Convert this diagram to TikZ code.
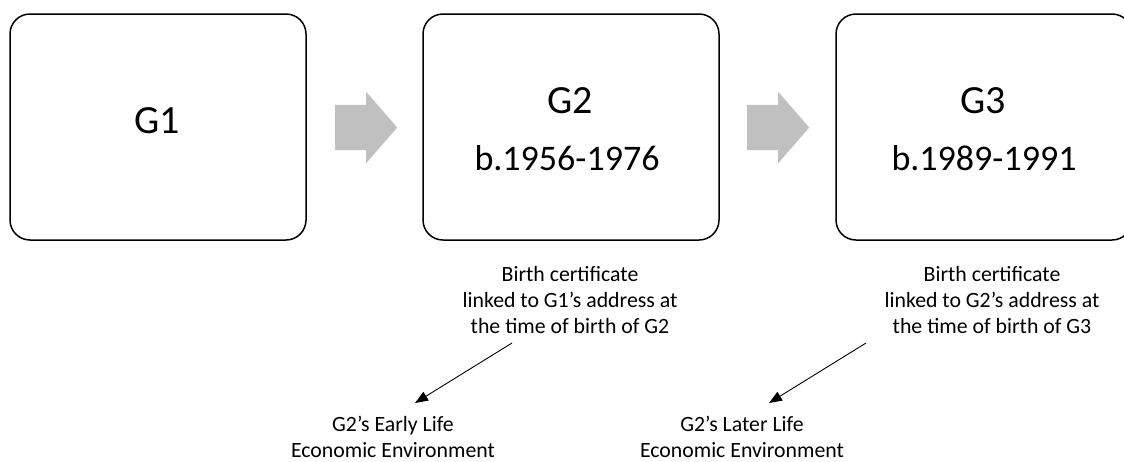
\documentclass[tikz,border=0pt]{standalone}
\usepackage{fontspec}
\setmainfont{Carlito}
\usetikzlibrary{arrows.meta, shapes.arrows}
\definecolor{arrowgray}{RGB}{192,192,192}

\begin{document}
\begin{tikzpicture}[x=1pt, y=-1pt]

\tikzset{gen/.style = {draw, line width=1.5pt, rounded corners=20pt, minimum width=296pt, minimum height=226pt}}
\tikzset{big/.style = {font=\fontsize{36}{43}\selectfont, anchor=base, inner sep=0pt}}
\tikzset{note/.style = {font=\fontsize{21.8}{26}\selectfont, align=center, inner sep=0pt}}
\tikzset{step arrow/.style = {single arrow, fill=arrowgray, anchor=tail, inner xsep=0pt, inner ysep=22.5pt, minimum height=62pt, single arrow head extend=13pt, single arrow tip angle=98}}
\tikzset{edge/.style = {-{Triangle[length=13pt, width=10pt]}, line width=0.9pt}}
\useasboundingbox (0,0) rectangle (1124,461);
%generations
\node[gen] (box1) at (158,127) {};
\node[gen] (box2) at (571,127) {};
\node[gen] (box3) at (984,127) {};
\node[big, font=\fontsize{40}{48}\selectfont] (g1) at (157,133) {G1};
\node[big, font=\fontsize{40}{48}\selectfont] (g2) at (570,113) {G2};
\node[big] (y2) at (567,170) {b.1956-1976};
\node[big, font=\fontsize{40}{48}\selectfont] (g3) at (983,113) {G3};
\node[big] (y3) at (984,170) {b.1989-1991};
%block arrows
\node[step arrow] (step1) at (335,127.5) {};
\node[step arrow] (step2) at (747,127.5) {};
%notes
\node[note] (cert1) at (570,300) {Birth certificate\\linked to G1’s address at\\the time of birth of G2};
\node[note] (cert2) at (992,300) {Birth certificate\\linked to G2’s address at\\the time of birth of G3};
\node[note] (early) at (393,437) {G2’s Early Life\\Economic Environment};
\node[note] (later) at (742,437) {G2’s Later Life\\Economic Environment};
%edges
\coordinate (from1) at (512,343);
\coordinate (to1) at (415,403);
\coordinate (from2) at (866,343);
\coordinate (to2) at (769,403);
\draw[edge] (from1) -- (to1);
\draw[edge] (from2) -- (to2);

\end{tikzpicture}
\end{document}
